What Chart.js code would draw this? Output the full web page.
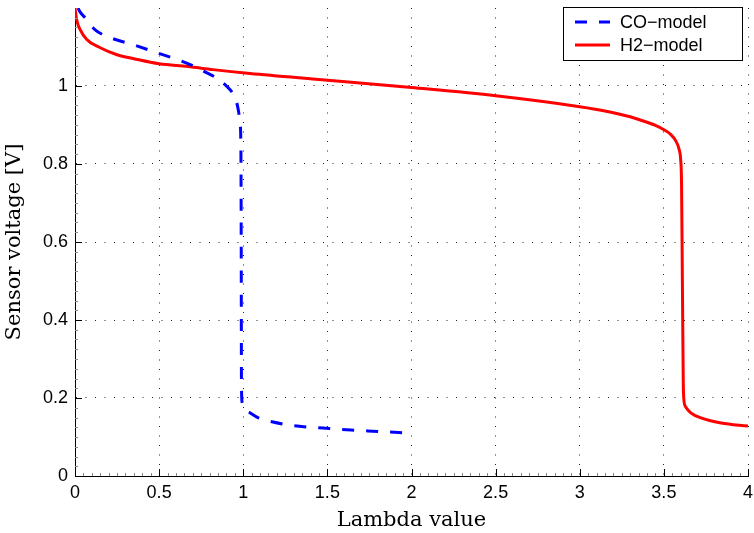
<!DOCTYPE html>
<html>
<head>
<meta charset="utf-8">
<script src="https://cdn.jsdelivr.net/npm/chart.js@4/dist/chart.umd.min.js"></script>
<style>
  html, body { margin: 0; padding: 0; background: #ffffff; }
  #wrap { width: 754px; height: 533px; position: relative; }
</style>
</head>
<body>
<div id="wrap"><canvas id="c" width="754" height="533"></canvas></div>
<script>
// ---- data ----
const seriesNames = ["CO\u2212model", "H2\u2212model"];

const coLambda = [0.018, 0.03, 0.06, 0.12, 0.21, 0.345, 0.49, 0.625, 0.685, 0.76, 0.85, 0.9, 0.935, 0.958, 0.972, 0.982, 0.986, 0.988, 0.989, 0.99, 0.993, 1.017, 1.04, 1.09, 1.17, 1.32, 1.475, 1.64, 1.77, 2.0];
const coVoltage = [1.2, 1.19, 1.175, 1.144, 1.124, 1.106, 1.085, 1.065, 1.055, 1.039, 1.018, 1.0, 0.983, 0.962, 0.935, 0.9, 0.84, 0.58, 0.29, 0.216, 0.19, 0.169, 0.162, 0.149, 0.139, 0.128, 0.123, 0.118, 0.115, 0.11];

const h2Lambda = [0.0, 0.01, 0.03, 0.07, 0.15, 0.25, 0.35, 0.5, 0.67, 0.82, 1.04, 1.5, 2.0, 2.5, 3.0, 3.15, 3.3, 3.4, 3.45, 3.5, 3.54, 3.57, 3.59, 3.6, 3.605, 3.61, 3.615, 3.618, 3.63, 3.66, 3.72, 3.84, 4.0];
const h2Voltage = [1.2, 1.17, 1.145, 1.119, 1.098, 1.08, 1.07, 1.057, 1.05, 1.042, 1.032, 1.015, 0.996, 0.975, 0.947, 0.936, 0.921, 0.907, 0.899, 0.888, 0.876, 0.86, 0.838, 0.81, 0.75, 0.5, 0.25, 0.2, 0.177, 0.162, 0.149, 0.136, 0.128];

const xTicks = [0, 0.5, 1, 1.5, 2, 2.5, 3, 3.5, 4];
const yTicks = [0, 0.2, 0.4, 0.6, 0.8, 1];
const xTitle = "Lambda value";
const yTitle = "Sensor voltage [V]";

const toPoints = (xs, ys) => xs.map((x, i) => ({ x: x, y: ys[i] }));

const tickFont = { family: "'Liberation Sans', Arial, sans-serif", size: 18 };
const titleFont = { family: "'DejaVu Serif', serif", size: 21 };

// Legend box in the upper-right corner of the plot area
const boxLegend = {
  id: 'boxLegend',
  afterDraw(chart) {
    const ctx = chart.ctx;
    const a = chart.chartArea;
    const w = 179, h = 53;
    const x0 = a.right - 6 - w, y0 = a.top - 1;
    ctx.save();
    ctx.fillStyle = '#ffffff';
    ctx.fillRect(x0, y0, w, h);
    ctx.strokeStyle = '#000000';
    ctx.lineWidth = 1;
    ctx.strokeRect(x0 + 0.5, y0 + 0.5, w, h);
    ctx.font = "18px 'Liberation Sans', Arial, sans-serif";
    ctx.textBaseline = 'middle';
    chart.data.datasets.forEach((ds, i) => {
      const cy = y0 + 15 + i * 23;
      ctx.beginPath();
      ctx.strokeStyle = ds.borderColor;
      ctx.lineWidth = 3;
      ctx.setLineDash(ds.borderDash || []);
      ctx.moveTo(x0 + 12, cy);
      ctx.lineTo(x0 + 47, cy);
      ctx.stroke();
      ctx.setLineDash([]);
      ctx.fillStyle = '#000000';
      ctx.fillText(ds.label, x0 + 57, cy + 1);
    });
    ctx.restore();
  }
};

// Inward major and minor tick marks along the left and bottom axes
const axisTicks = {
  id: 'axisTicks',
  afterDatasetsDraw(chart) {
    const { ctx, chartArea: a, scales: { x, y } } = chart;
    ctx.save();
    ctx.lineWidth = 1;
    // minor ticks
    ctx.strokeStyle = '#888888';
    ctx.beginPath();
    for (let k = 1; k < 80; k++) {
      if (k % 10 === 0) continue;
      const px = Math.round(x.getPixelForValue(k * 0.05)) + 0.5;
      ctx.moveTo(px, a.bottom);
      ctx.lineTo(px, a.bottom - 3);
    }
    for (let k = 1; k < 48; k++) {
      if (k % 8 === 0) continue;
      const py = Math.round(y.getPixelForValue(k * 0.025)) + 0.5;
      ctx.moveTo(a.left, py);
      ctx.lineTo(a.left + 3, py);
    }
    ctx.stroke();
    // major ticks
    ctx.strokeStyle = '#000000';
    ctx.beginPath();
    xTicks.forEach(v => {
      const px = Math.round(x.getPixelForValue(v)) + 0.5;
      ctx.moveTo(px, a.bottom);
      ctx.lineTo(px, a.bottom - 7);
    });
    yTicks.forEach(v => {
      const py = Math.round(y.getPixelForValue(v)) + 0.5;
      ctx.moveTo(a.left, py);
      ctx.lineTo(a.left + 7, py);
    });
    ctx.stroke();
    ctx.restore();
  }
};

new Chart(document.getElementById('c'), {
  type: 'scatter',
  data: {
    datasets: [
      {
        label: seriesNames[0],
        data: toPoints(coLambda, coVoltage),
        showLine: true,
        borderColor: '#0000ff',
        backgroundColor: '#0000ff',
        borderWidth: 3,
        borderDash: [12, 12],
        pointRadius: 0,
        cubicInterpolationMode: 'monotone',
        order: 1
      },
      {
        label: seriesNames[1],
        data: toPoints(h2Lambda, h2Voltage),
        showLine: true,
        borderColor: '#ff0000',
        backgroundColor: '#ff0000',
        borderWidth: 3,
        pointRadius: 0,
        cubicInterpolationMode: 'monotone',
        order: 2
      }
    ]
  },
  options: {
    responsive: false,
    animation: false,
    devicePixelRatio: 1,
    layout: { padding: { top: 8, right: 6, left: 0, bottom: 0 } },
    plugins: {
      legend: { display: false },
      tooltip: { enabled: false }
    },
    scales: {
      x: {
        type: 'linear',
        min: 0,
        max: 4,
        afterBuildTicks: s => { s.ticks = xTicks.map(v => ({ value: v })); },
        afterFit: s => { s.height = 57; s.paddingLeft = 0; s.paddingRight = 0; },
        ticks: {
          color: '#000000',
          font: tickFont,
          padding: 6,
          maxRotation: 0,
          callback: v => String(v)
        },
        grid: {
          color: '#222222',
          lineWidth: 1,
          drawTicks: false,
          tickLength: 0
        },
        border: { display: true, color: '#000000', width: 1, dash: [1, 8.5] },
        title: {
          display: true,
          text: xTitle,
          color: '#000000',
          font: titleFont,
          padding: { top: 0, bottom: 0 }
        }
      },
      y: {
        type: 'linear',
        min: 0,
        max: 1.2,
        afterBuildTicks: s => { s.ticks = yTicks.map(v => ({ value: v })); },
        afterFit: s => { s.width = 75; s.paddingTop = 0; s.paddingBottom = 0; },
        ticks: {
          color: '#000000',
          font: tickFont,
          padding: 7,
          callback: v => String(v)
        },
        grid: {
          color: '#222222',
          lineWidth: 1,
          drawTicks: false,
          tickLength: 0
        },
        border: { display: true, color: '#000000', width: 1, dash: [1, 8.5] },
        title: {
          display: true,
          text: yTitle,
          color: '#000000',
          font: titleFont,
          padding: { top: 2, bottom: 4 }
        }
      }
    }
  },
  plugins: [axisTicks, boxLegend]
});
</script>
</body>
</html>
